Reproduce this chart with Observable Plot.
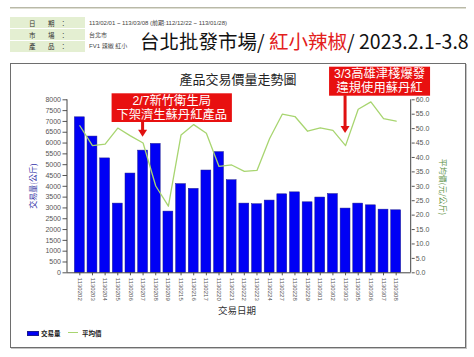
<!DOCTYPE html>
<html><head><meta charset="utf-8">
<script src="https://cdn.jsdelivr.net/npm/d3@7"></script>
<script src="https://cdn.jsdelivr.net/npm/@observablehq/plot@0.6"></script>
<style>
body{margin:0;width:474px;height:357px;background:#fff;position:relative;overflow:hidden;font-family:"Noto Sans CJK TC","Noto Sans",sans-serif}
.abs{position:absolute}
#topline{left:10px;top:7px;width:456px;height:0;border-top:1px solid #b9b9a8;border-bottom:1px solid #deded2}
.lab{left:10px;width:75px;height:11px;background:#e4efd2}
.lt{font-size:6.5px;color:#333;line-height:1;white-space:nowrap}
.vt{left:89px;font-size:6px;color:#444;line-height:1;white-space:nowrap;font-family:"Liberation Sans","Noto Sans CJK TC",sans-serif}
#title{left:140px;top:31px;font-size:19.5px;line-height:1;color:#111;white-space:nowrap}
#title .red{color:#e3201c}
#box{left:10px;top:63px;width:454px;height:283px;border:1px solid #6e6e6e;box-shadow:1px 1px 0 #c4c4c4}
#ctitle{left:10px;top:72px;width:456px;text-align:center;font-size:13px;line-height:1;color:#222}
#chart{left:0;top:63px}
.lg{font-size:6.5px;font-weight:bold;color:#222;line-height:1;white-space:nowrap}
.ann{font-family:"Liberation Sans","Noto Sans CJK TC",sans-serif;font-size:12.3px;line-height:13px;height:13px;color:#fff;text-align:center;white-space:nowrap;overflow:visible}
</style></head><body>
<div id="topline" class="abs"></div>
<div class="abs lab" style="top:17px"></div>
<div class="abs lab" style="top:29px"></div>
<div class="abs lab" style="top:41px;height:10.5px"></div>
<div class="abs lt" style="left:29px;top:19.5px">日</div><div class="abs lt" style="left:48px;top:19.5px">期</div><div class="abs lt" style="left:60px;top:19.5px">：</div>
<div class="abs lt" style="left:29px;top:31.5px">市</div><div class="abs lt" style="left:48px;top:31.5px">場</div><div class="abs lt" style="left:60px;top:31.5px">：</div>
<div class="abs lt" style="left:29px;top:43px">產</div><div class="abs lt" style="left:48px;top:43px">品</div><div class="abs lt" style="left:60px;top:43px">：</div>
<div class="abs vt" style="top:19.5px">113/02/01 ~ 113/03/08 (前期:112/12/22 ~ 113/01/28)</div>
<div class="abs vt" style="top:31.5px">台北市</div>
<div class="abs vt" style="top:43px">FV1 辣椒 紅小</div>
<div id="title" class="abs">台北批發市場/ <span class="red">紅小辣椒</span>/ 2023.2.1-3.8</div>
<div id="box" class="abs"></div>
<div id="ctitle" class="abs">產品交易價量走勢圖</div>
<div id="chart" class="abs"></div>
<div class="abs" style="left:27px;top:330.5px;width:12px;height:5px;background:#0000f5;border:0.5px solid #1a1a90;box-sizing:border-box"></div>
<div class="abs lg" style="left:41px;top:329.5px">交易量</div>
<div class="abs" style="left:68px;top:332px;width:10px;height:0;border-top:1.3px solid #a8d570"></div>
<div class="abs lg" style="left:82px;top:329.5px">平均價</div>
<script>
const dates = ["1130202","1130203","1130204","1130205","1130206","1130207","1130208","1130209","1130215","1130216","1130217","1130220","1130221","1130222","1130223","1130224","1130227","1130228","1130229","1130301","1130302","1130303","1130305","1130306","1130307","1130308"];
const volumes = [7190,6300,5290,3200,4590,5650,5960,2830,4100,3880,4730,5580,4280,3200,3170,3340,3630,3720,3260,3480,3640,2970,3200,3120,2920,2890];
const prices = [51.0,44.1,44.6,50.2,47.5,45.0,30.1,23.1,47.8,51.4,48.4,36.9,37.4,35.2,35.5,46.6,55.0,54.2,49.1,50.3,49.4,44.1,56.7,59.3,53.5,52.6];
const volumeTicks = [0,500,1000,1500,2000,2500,3000,3500,4000,4500,5000,5500,6000,6500,7000,7500,8000];
const priceTicks = [0,5,10,15,20,25,30,35,40,45,50,55,60];
const annotations = [
  {date:"1130207", lines:["2/7新竹衛生局","下架濟生蘇丹紅產品"]},
  {date:"1130303", lines:["3/3高雄津棧爆發","違規使用蘇丹紅"]}
];

const W = 474, H = 284, OY = 63;
const k = 8000 / 60;
const data = dates.map((d, i) => ({date: d, volume: volumes[i], price: prices[i]}));
const tickFont = "Liberation Sans, Arial, sans-serif";

const plot = Plot.plot({
  width: W, height: H,
  marginTop: 36.3, marginBottom: 74.7, marginLeft: 67, marginRight: 63.3,
  insetLeft: 4.6, insetRight: 7.3,
  x: {type: "band", domain: dates, padding: 0.22, round: false, label: null},
  y: {domain: [0, 8000], label: null},
  style: {fontFamily: tickFont, fontSize: "7px", color: "#555", background: "transparent", overflow: "visible"},
  marks: [
    Plot.barY(data, {x: "date", y: "volume", fill: "#0000f5", stroke: "#1a1a90", strokeWidth: 0.5}),
    Plot.lineY(data, {x: "date", y: d => d.price * k, stroke: "#a8d570", strokeWidth: 1.3}),
    Plot.axisY(volumeTicks, {anchor: "left", tickSize: 4.5, tickPadding: 2, label: null, tickFormat: d => String(d)}),
    Plot.axisY(priceTicks.map(v => v * k), {anchor: "right", tickSize: 3, tickPadding: 1.5, label: null, tickFormat: d => (d / k).toFixed(1)}),
    Plot.axisX({tickRotate: 90, tickSize: 3, tickPadding: 2, label: null, fontSize: 6}),
    Plot.ruleY([0], {stroke: "#444", strokeWidth: 1})
  ]
});
document.getElementById("chart").appendChild(plot);

const svg = d3.select(plot);
const yTop = 36.3, yBot = H - 74.7, xL = 67, xR = W - 63.3;
svg.append("line").attr("x1", xL).attr("x2", xL).attr("y1", yTop).attr("y2", yBot).attr("stroke", "#444");
svg.append("line").attr("x1", xR).attr("x2", xR).attr("y1", yTop).attr("y2", yBot).attr("stroke", "#444");

// axis titles
svg.append("text").attr("transform", `translate(32,123) rotate(-90)`).attr("text-anchor", "middle").attr("dominant-baseline", "central")
  .attr("font-family", "Noto Sans CJK TC").attr("font-size", 8).attr("fill", "#3535a8").text("交易量(公斤)");
svg.append("text").attr("transform", `translate(443,124) rotate(90)`).attr("text-anchor", "middle").attr("dominant-baseline", "central")
  .attr("font-family", "Noto Sans CJK TC").attr("font-size", 8).attr("fill", "#5b8f3f").text("平均價(元/公斤)");
svg.append("text").attr("x", 237).attr("y", 247).attr("text-anchor", "middle").attr("dominant-baseline", "central")
  .attr("font-family", "Noto Sans CJK TC").attr("font-size", 9.5).attr("fill", "#333").text("交易日期");

// annotations: red box + arrow in the SVG, text lines as HTML on top
const xs = plot.scale("x");
const cx = d => xs.apply(d) + xs.bandwidth / 2;
const geo = [
  {dl: -31, w: 120.3, top: 30.3, h: 28.7, tip: 73.7, ly: [38, 52.8]},
  {dl: -16, w: 101, top: 3.7, h: 29, tip: 70, ly: [11, 25.4]}
];
annotations.forEach((a, i) => {
  const g = geo[i], x = cx(a.date);
  const grp = svg.append("g");
  grp.append("rect").attr("x", x + g.dl).attr("y", g.top).attr("width", g.w).attr("height", g.h).attr("fill", "#e81010");
  const b = g.top + g.h;
  grp.append("rect").attr("x", x - 1.5).attr("y", b - 0.5).attr("width", 3).attr("height", g.tip - 6.5 - b + 0.5).attr("fill", "#e01010");
  grp.append("path").attr("d", `M${x - 4.5},${g.tip - 7}L${x + 4.5},${g.tip - 7}L${x},${g.tip}Z`).attr("fill", "#e01010");
  a.lines.forEach((s, j) => {
    const div = document.createElement("div");
    div.className = "abs ann";
    div.style.left = (x + g.dl) + "px";
    div.style.width = g.w + "px";
    div.style.top = (OY + g.ly[j] - 6.5) + "px";
    div.textContent = s;
    document.body.appendChild(div);
  });
});
</script>
</body></html>
